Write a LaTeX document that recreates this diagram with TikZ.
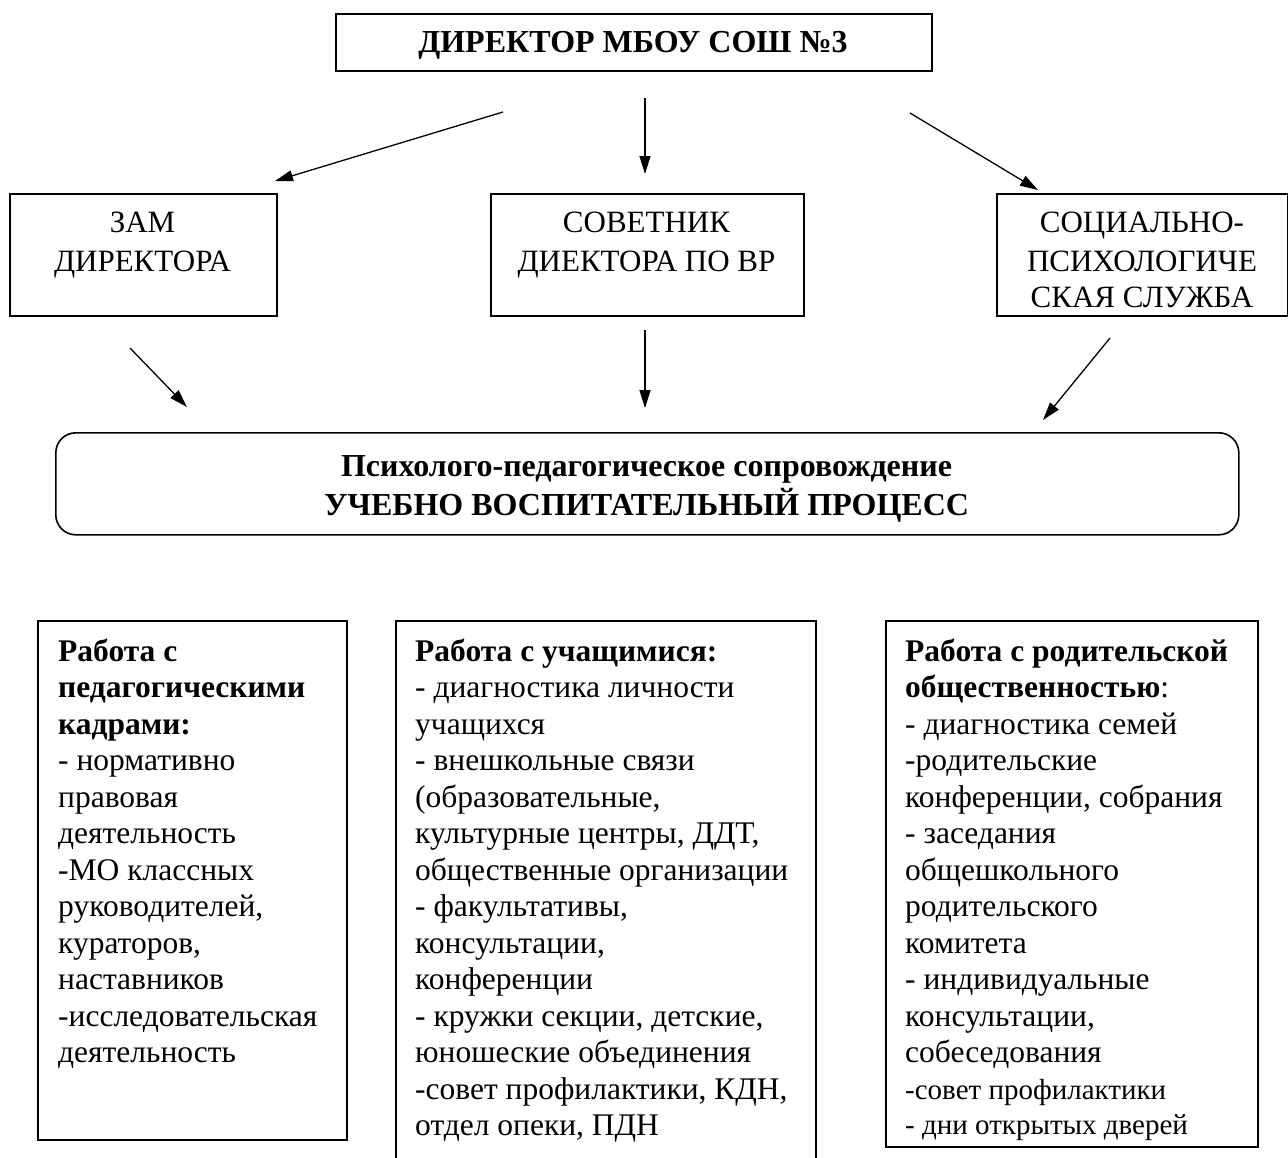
\documentclass[tikz,border=0pt]{standalone}
\usepackage{fontspec}
\setmainfont{Liberation Serif}
\usetikzlibrary{arrows.meta}
\begin{document}
\begin{tikzpicture}[x=1pt,y=-1pt,
  frame/.style={draw, line width=1.6pt, inner sep=0pt, anchor=north west},
  arr/.style={line width=1.3pt, -{Triangle[length=18pt,width=11pt]}},
  midtext/.style={inner sep=0pt, anchor=north, align=center, font=\fontsize{31}{39}\selectfont},
  listtext/.style={inner sep=0pt, anchor=north west, align=left, font=\fontsize{31.5}{36.5}\selectfont}
]
\useasboundingbox (0,0) rectangle (1288,1157);
\clip (0,0) rectangle (1288,1157);

% top box
\node[frame, minimum width=596pt, minimum height=57pt] (dir) at (335,13) {};
\node[inner sep=0pt, anchor=base, font=\fontsize{32}{37}\selectfont\bfseries] (dirt) at (633,52.5) {ДИРЕКТОР МБОУ СОШ №3};

% middle boxes
\node[frame, minimum width=267pt, minimum height=122pt] (zam) at (9,193) {};
\node[midtext] (zamt) at (142.5,204.7) {\strut ЗАМ\\ДИРЕКТОРА};

\node[frame, minimum width=313pt, minimum height=122pt] (sov) at (490,193) {};
\node[midtext] (sovt) at (646.5,204.7) {\strut СОВЕТНИК\\ДИЕКТОРА ПО ВР};

\node[frame, minimum width=291pt, minimum height=122pt] (soc) at (996,193) {};
\node[midtext] (soct) at (1142,204.7) {\strut СОЦИАЛЬНО-\\ПСИХОЛОГИЧЕ\\[-3pt]СКАЯ СЛУЖБА};

% process box
\node[draw, line width=1.6pt, rounded corners=20pt, inner sep=0pt, anchor=north west,
      minimum width=1183pt, minimum height=102pt] (proc) at (55,432) {};
\node[inner sep=0pt, anchor=north, align=center, font=\fontsize{32}{37}\selectfont\bfseries] (proct) at (646.5,450.1)
  {\strut Психолого-педагогическое сопровождение\\УЧЕБНО ВОСПИТАТЕЛЬНЫЙ ПРОЦЕСС};

% arrow end points
\coordinate (a1s) at (503,112); \coordinate (a1e) at (275,181);
\coordinate (a2s) at (645,98);  \coordinate (a2e) at (645,174);
\coordinate (a3s) at (910,113); \coordinate (a3e) at (1038,190);
\coordinate (a4s) at (130,348); \coordinate (a4e) at (187,407);
\coordinate (a5s) at (645,330); \coordinate (a5e) at (645,408);
\coordinate (a6s) at (1110,338); \coordinate (a6e) at (1043,420);
\draw[arr] (a1s) -- (a1e);
\draw[arr] (a2s) -- (a2e);
\draw[arr] (a3s) -- (a3e);
\draw[arr] (a4s) -- (a4e);
\draw[arr] (a5s) -- (a5e);
\draw[arr] (a6s) -- (a6e);

% bottom boxes
\node[frame, minimum width=309pt, minimum height=519pt] (ped) at (37,620) {};
\node[listtext] (pedt) at (58,635.5) {\strut\textbf{Работа с}\\
\textbf{педагогическими}\\
\textbf{кадрами:}\\
- нормативно\\
правовая\\
деятельность\\
-МО классных\\
руководителей,\\
кураторов,\\
наставников\\
-исследовательская\\
деятельность};

\node[frame, minimum width=420pt, minimum height=570pt] (uch) at (395,620) {};
\node[listtext] (ucht) at (415,635.5) {\strut\textbf{Работа с учащимися:}\\
- диагностика личности\\
учащихся\\
- внешкольные связи\\
(образовательные,\\
культурные центры, ДДТ,\\
общественные организации\\
- факультативы,\\
консультации,\\
конференции\\
- кружки секции, детские,\\
юношеские объединения\\
-совет профилактики, КДН,\\
отдел опеки, ПДН};

\node[frame, minimum width=372pt, minimum height=526pt] (rod) at (885,620) {};
\node[listtext] (rodt) at (905,635.5) {\strut\textbf{Работа с родительской}\\
\textbf{общественностью}:\\
- диагностика семей\\
-родительские\\
конференции, собрания\\
- заседания\\
общешкольного\\
родительского\\
комитета\\
- индивидуальные\\
консультации,\\
собеседования\\
{\fontsize{29}{35}\selectfont -совет профилактики}\\[-1.5pt]
{\fontsize{29}{35}\selectfont - дни открытых дверей}};
\end{tikzpicture}
\end{document}
